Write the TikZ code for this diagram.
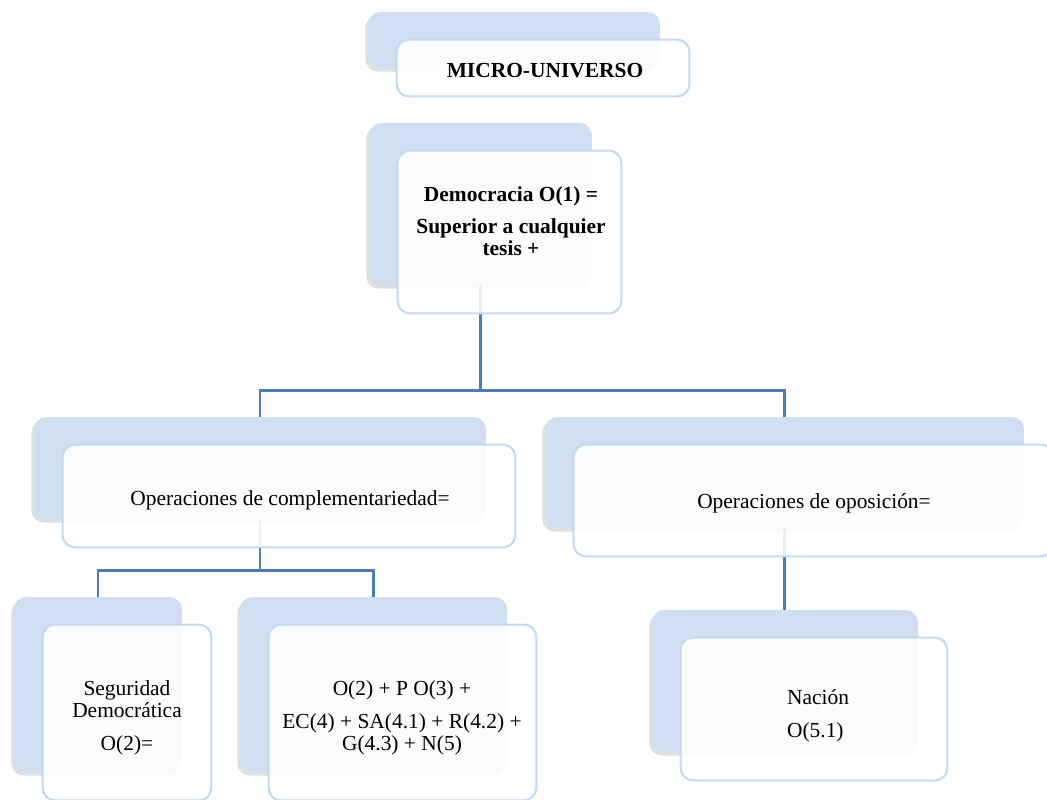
\documentclass[tikz,border=0pt]{standalone}
\usepackage{fontspec}
\setmainfont{Liberation Serif}
\usetikzlibrary{fit,shadows}
\definecolor{boxblue}{RGB}{207,223,241}
\definecolor{edgeblue}{RGB}{198,217,240}
\definecolor{linkblue}{RGB}{80,125,175}

\begin{document}
\begin{tikzpicture}[x=0.02cm,y=-0.02cm,
    back box/.style={rectangle,rounded corners=7pt,fill=boxblue,inner sep=0pt,drop shadow={shadow xshift=-1.5pt,shadow yshift=-2pt,opacity=0.25}},
    front box/.style={rectangle,rounded corners=7pt,draw=edgeblue,line width=1.2pt,fill=white,fill opacity=0.88,inner sep=0pt,xshift=0.58cm,yshift=-0.56cm},
    link/.style={draw=linkblue,line width=1.5pt},
    box text/.style={font=\fontsize{12.2}{12.5}\selectfont,align=center,text=black},
    bold text/.style={box text,font=\bfseries\fontsize{12.2}{12.5}\selectfont}]

                \useasboundingbox (0,0) rectangle (1047,799);

                \node[back box, fit={(368,12) (660,68)}] (b1) {};
                \node[back box, fit={(369,123) (592,285)}] (b2) {};
                \node[back box, fit={(34,417) (486,519)}] (b3) {};
                \node[back box, fit={(545,417) (1024,528)}] (b4) {};
                \node[back box, fit={(14,597) (182,772)}] (b5) {};
                \node[back box, fit={(240,597) (507,772)}] (b6) {};
                \node[back box, fit={(652,610) (918,752)}] (b7) {};

                \path (b2.south) ++(0,105) coordinate (h1);
                \path (b3.south) ++(0,51) coordinate (h2);
                \draw[link] (b2.south) -- (h1) -| (b3.north);
                \draw[link] (h1) -| (b4.north);
                \draw[link] (b3.south) -- (h2) -| (b5.north);
                \draw[link] (h2) -| (b6.north);
                \draw[link] (b4.south) -- (b4.south |- b7.north);

                \node[front box, fit=(b1)] (f1) {};
                \node[front box, fit=(b2)] (f2) {};
                \node[front box, fit=(b3)] (f3) {};
                \node[front box, fit=(b4)] (f4) {};
                \node[front box, fit=(b5)] (f5) {};
                \node[front box, fit=(b6)] (f6) {};
                \node[front box, fit=(b7)] (f7) {};

                \node[bold text] (t1) at (545,71) {MICRO-UNIVERSO};
                \node[bold text] (t2) at (511,221) {Democracia O(1) =\\[6pt]Superior a cualquier\\tesis +};
                \node[box text] (t3) at (290,500) {Operaciones de complementariedad=};
                \node[box text] (t4) at (814,503) {Operaciones de oposición=};
                \node[box text] (t5) at (127,718) {Seguridad\\Democrática\\[6pt]O(2)=};
                \node[box text] (t6) at (402,718) {O(2) + P O(3) +\\[6pt]EC(4) + SA(4.1) + R(4.2) +\\G(4.3) + N(5)};
                \node[box text, align=left] (t7) at (818,716) {Nación\\[6pt]O(5.1)};
            \end{tikzpicture}
\end{document}
